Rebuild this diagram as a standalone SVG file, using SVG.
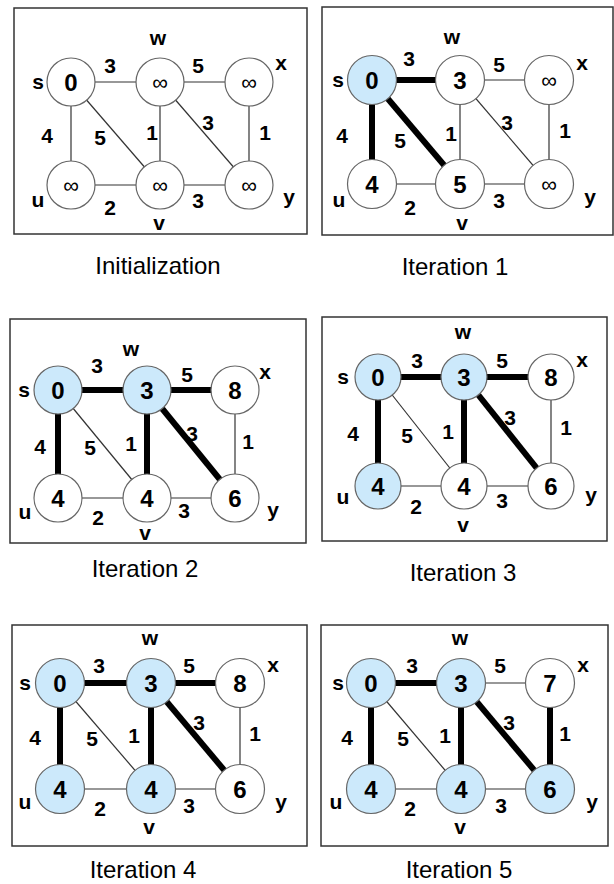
<svg xmlns="http://www.w3.org/2000/svg" width="614" height="884" viewBox="0 0 614 884">
<style>
.box{fill:#fff;stroke:#333;stroke-width:1.5}
.n{fill:#fff;stroke:#666;stroke-width:1.2}
.b{fill:#cce9fb}
.e{stroke:#333;stroke-width:1.2}
.t{stroke:#000;stroke-width:6}
text{font-family:"Liberation Sans",Arial,sans-serif;fill:#000;text-anchor:middle;dominant-baseline:central}
.val{font-size:24px;font-weight:bold}
.inf{font-size:22px}
.nm{font-size:21px;font-weight:bold}
.wt{font-size:21px;font-weight:bold}
.cap{font-size:24px}
</style>
<rect width="614" height="884" fill="#fff"/>

<!-- Panel 1: Initialization -->
<g id="panel1">
<rect class="box" x="14" y="8" width="293" height="226"/>
<g id="p1-edges">
<line class="e" x1="71" y1="82" x2="160" y2="82"/>
<line class="e" x1="160" y1="82" x2="249" y2="82"/>
<line class="e" x1="71" y1="82" x2="71" y2="185"/>
<line class="e" x1="71" y1="82" x2="160" y2="185"/>
<line class="e" x1="160" y1="82" x2="160" y2="185"/>
<line class="e" x1="160" y1="82" x2="249" y2="185"/>
<line class="e" x1="249" y1="82" x2="249" y2="185"/>
<line class="e" x1="71" y1="185" x2="160" y2="185"/>
<line class="e" x1="160" y1="185" x2="249" y2="185"/>
<text class="wt" x="110" y="65">3</text>
<text class="wt" x="198" y="65">5</text>
<text class="wt" x="47" y="135">4</text>
<text class="wt" x="100" y="137">5</text>
<text class="wt" x="152" y="132">1</text>
<text class="wt" x="208" y="122">3</text>
<text class="wt" x="265" y="132">1</text>
<text class="wt" x="110" y="207">2</text>
<text class="wt" x="198" y="200">3</text>
</g>
<g id="p1-s"><circle class="n" cx="71" cy="82" r="24"/><text class="val" x="71" y="82">0</text><text class="nm" x="38" y="81">s</text></g>
<g id="p1-w"><circle class="n" cx="160" cy="82" r="24"/><text class="inf" x="160" y="82">∞</text><text class="nm" x="158" y="37">w</text></g>
<g id="p1-x"><circle class="n" cx="249" cy="82" r="24"/><text class="inf" x="249" y="82">∞</text><text class="nm" x="281" y="62">x</text></g>
<g id="p1-u"><circle class="n" cx="71" cy="185" r="24"/><text class="inf" x="71" y="185">∞</text><text class="nm" x="38" y="199">u</text></g>
<g id="p1-v"><circle class="n" cx="160" cy="185" r="24"/><text class="inf" x="160" y="185">∞</text><text class="nm" x="159" y="222">v</text></g>
<g id="p1-y"><circle class="n" cx="249" cy="185" r="24"/><text class="inf" x="249" y="185">∞</text><text class="nm" x="289" y="196">y</text></g>
<text class="cap" x="158" y="265">Initialization</text>
</g>

<!-- Panel 2: Iteration 1 -->
<g id="panel2">
<rect class="box" x="322" y="7" width="291" height="228"/>
<g id="p2-edges">
<line class="t" x1="372" y1="80" x2="460" y2="80"/>
<line class="e" x1="460" y1="80" x2="549" y2="80"/>
<line class="t" x1="372" y1="80" x2="372" y2="184"/>
<line class="t" x1="372" y1="80" x2="460" y2="184"/>
<line class="e" x1="460" y1="80" x2="460" y2="184"/>
<line class="e" x1="460" y1="80" x2="549" y2="184"/>
<line class="e" x1="549" y1="80" x2="549" y2="184"/>
<line class="e" x1="372" y1="184" x2="460" y2="184"/>
<line class="e" x1="460" y1="184" x2="549" y2="184"/>
<text class="wt" x="409" y="58">3</text>
<text class="wt" x="499" y="64">5</text>
<text class="wt" x="342" y="135">4</text>
<text class="wt" x="400" y="140">5</text>
<text class="wt" x="451" y="133">1</text>
<text class="wt" x="507" y="122">3</text>
<text class="wt" x="565" y="130">1</text>
<text class="wt" x="410" y="207">2</text>
<text class="wt" x="499" y="200">3</text>
</g>
<g id="p2-s"><circle class="n b" cx="372" cy="80" r="24.5"/><text class="val" x="372" y="80">0</text><text class="nm" x="338" y="79">s</text></g>
<g id="p2-w"><circle class="n" cx="460" cy="80" r="24.5"/><text class="val" x="460" y="80">3</text><text class="nm" x="452" y="36">w</text></g>
<g id="p2-x"><circle class="n" cx="549" cy="80" r="24.5"/><text class="inf" x="549" y="80">∞</text><text class="nm" x="582" y="62">x</text></g>
<g id="p2-u"><circle class="n" cx="372" cy="184" r="24.5"/><text class="val" x="372" y="184">4</text><text class="nm" x="339" y="199">u</text></g>
<g id="p2-v"><circle class="n" cx="460" cy="184" r="24.5"/><text class="val" x="460" y="184">5</text><text class="nm" x="462" y="222">v</text></g>
<g id="p2-y"><circle class="n" cx="549" cy="184" r="24.5"/><text class="inf" x="549" y="184">∞</text><text class="nm" x="590" y="196">y</text></g>
<text class="cap" x="455" y="266">Iteration 1</text>
</g>

<!-- Panel 3: Iteration 2 -->
<g id="panel3">
<rect class="box" x="10" y="319" width="296" height="224"/>
<g id="p3-edges">
<line class="t" x1="58" y1="390" x2="147" y2="390"/>
<line class="t" x1="147" y1="390" x2="235" y2="390"/>
<line class="t" x1="58" y1="390" x2="58" y2="498"/>
<line class="e" x1="58" y1="390" x2="147" y2="498"/>
<line class="t" x1="147" y1="390" x2="147" y2="498"/>
<line class="t" x1="147" y1="390" x2="235" y2="498"/>
<line class="e" x1="235" y1="390" x2="235" y2="498"/>
<line class="e" x1="58" y1="498" x2="147" y2="498"/>
<line class="e" x1="147" y1="498" x2="235" y2="498"/>
<text class="wt" x="97" y="365">3</text>
<text class="wt" x="187" y="374">5</text>
<text class="wt" x="40" y="446">4</text>
<text class="wt" x="90" y="447">5</text>
<text class="wt" x="131" y="443">1</text>
<text class="wt" x="192" y="433">3</text>
<text class="wt" x="248" y="441">1</text>
<text class="wt" x="98" y="517">2</text>
<text class="wt" x="184" y="510">3</text>
</g>
<g id="p3-s"><circle class="n b" cx="58" cy="390" r="24"/><text class="val" x="58" y="390">0</text><text class="nm" x="24" y="389">s</text></g>
<g id="p3-w"><circle class="n b" cx="147" cy="390" r="24"/><text class="val" x="147" y="390">3</text><text class="nm" x="131" y="348">w</text></g>
<g id="p3-x"><circle class="n" cx="235" cy="390" r="24"/><text class="val" x="235" y="390">8</text><text class="nm" x="265" y="371">x</text></g>
<g id="p3-u"><circle class="n" cx="58" cy="498" r="24"/><text class="val" x="58" y="498">4</text><text class="nm" x="25" y="511">u</text></g>
<g id="p3-v"><circle class="n" cx="147" cy="498" r="24"/><text class="val" x="147" y="498">4</text><text class="nm" x="145" y="532">v</text></g>
<g id="p3-y"><circle class="n" cx="235" cy="498" r="24"/><text class="val" x="235" y="498">6</text><text class="nm" x="273" y="509">y</text></g>
<text class="cap" x="145" y="568">Iteration 2</text>
</g>

<!-- Panel 4: Iteration 3 -->
<g id="panel4">
<rect class="box" x="322" y="317" width="285" height="224"/>
<g id="p4-edges">
<line class="t" x1="378" y1="377" x2="464" y2="377"/>
<line class="t" x1="464" y1="377" x2="551" y2="377"/>
<line class="t" x1="378" y1="377" x2="378" y2="486"/>
<line class="e" x1="378" y1="377" x2="464" y2="486"/>
<line class="t" x1="464" y1="377" x2="464" y2="486"/>
<line class="t" x1="464" y1="377" x2="551" y2="486"/>
<line class="e" x1="551" y1="377" x2="551" y2="486"/>
<line class="e" x1="378" y1="486" x2="464" y2="486"/>
<line class="e" x1="464" y1="486" x2="551" y2="486"/>
<text class="wt" x="417" y="360">3</text>
<text class="wt" x="502" y="360">5</text>
<text class="wt" x="353" y="433">4</text>
<text class="wt" x="407" y="435">5</text>
<text class="wt" x="448" y="431">1</text>
<text class="wt" x="510" y="417">3</text>
<text class="wt" x="566" y="427">1</text>
<text class="wt" x="416" y="506">2</text>
<text class="wt" x="502" y="500">3</text>
</g>
<g id="p4-s"><circle class="n b" cx="378" cy="377" r="23"/><text class="val" x="378" y="377">0</text><text class="nm" x="343" y="376">s</text></g>
<g id="p4-w"><circle class="n b" cx="464" cy="377" r="23"/><text class="val" x="464" y="377">3</text><text class="nm" x="463" y="331">w</text></g>
<g id="p4-x"><circle class="n" cx="551" cy="377" r="23"/><text class="val" x="551" y="377">8</text><text class="nm" x="582" y="359">x</text></g>
<g id="p4-u"><circle class="n b" cx="378" cy="486" r="23"/><text class="val" x="378" y="486">4</text><text class="nm" x="343" y="496">u</text></g>
<g id="p4-v"><circle class="n" cx="464" cy="486" r="23"/><text class="val" x="464" y="486">4</text><text class="nm" x="463" y="524">v</text></g>
<g id="p4-y"><circle class="n" cx="551" cy="486" r="23"/><text class="val" x="551" y="486">6</text><text class="nm" x="591" y="494">y</text></g>
<text class="cap" x="463" y="572">Iteration 3</text>
</g>

<!-- Panel 5: Iteration 4 -->
<g id="panel5">
<rect class="box" x="12" y="625" width="295" height="221"/>
<g id="p5-edges">
<line class="t" x1="60" y1="683" x2="151" y2="683"/>
<line class="t" x1="151" y1="683" x2="240" y2="683"/>
<line class="t" x1="60" y1="683" x2="60" y2="789"/>
<line class="e" x1="60" y1="683" x2="151" y2="789"/>
<line class="t" x1="151" y1="683" x2="151" y2="789"/>
<line class="t" x1="151" y1="683" x2="240" y2="789"/>
<line class="e" x1="240" y1="683" x2="240" y2="789"/>
<line class="e" x1="60" y1="789" x2="151" y2="789"/>
<line class="e" x1="151" y1="789" x2="240" y2="789"/>
<text class="wt" x="99" y="665">3</text>
<text class="wt" x="189" y="665">5</text>
<text class="wt" x="35" y="737">4</text>
<text class="wt" x="92" y="738">5</text>
<text class="wt" x="134" y="735">1</text>
<text class="wt" x="199" y="722">3</text>
<text class="wt" x="255" y="733">1</text>
<text class="wt" x="100" y="808">2</text>
<text class="wt" x="189" y="805">3</text>
</g>
<g id="p5-s"><circle class="n b" cx="60" cy="683" r="24.5"/><text class="val" x="60" y="683">0</text><text class="nm" x="25" y="682">s</text></g>
<g id="p5-w"><circle class="n b" cx="151" cy="683" r="24.5"/><text class="val" x="151" y="683">3</text><text class="nm" x="150" y="637">w</text></g>
<g id="p5-x"><circle class="n" cx="240" cy="683" r="24.5"/><text class="val" x="240" y="683">8</text><text class="nm" x="273" y="664">x</text></g>
<g id="p5-u"><circle class="n b" cx="60" cy="789" r="24.5"/><text class="val" x="60" y="789">4</text><text class="nm" x="25" y="801">u</text></g>
<g id="p5-v"><circle class="n b" cx="151" cy="789" r="24.5"/><text class="val" x="151" y="789">4</text><text class="nm" x="149" y="826">v</text></g>
<g id="p5-y"><circle class="n" cx="240" cy="789" r="24.5"/><text class="val" x="240" y="789">6</text><text class="nm" x="281" y="801">y</text></g>
<text class="cap" x="143" y="869">Iteration 4</text>
</g>

<!-- Panel 6: Iteration 5 -->
<g id="panel6">
<rect class="box" x="321" y="625" width="287" height="221"/>
<g id="p6-edges">
<line class="t" x1="371" y1="683" x2="461" y2="683"/>
<line class="e" x1="461" y1="683" x2="550" y2="683"/>
<line class="t" x1="371" y1="683" x2="371" y2="789"/>
<line class="e" x1="371" y1="683" x2="461" y2="789"/>
<line class="t" x1="461" y1="683" x2="461" y2="789"/>
<line class="t" x1="461" y1="683" x2="550" y2="789"/>
<line class="t" x1="550" y1="683" x2="550" y2="789"/>
<line class="e" x1="371" y1="789" x2="461" y2="789"/>
<line class="e" x1="461" y1="789" x2="550" y2="789"/>
<text class="wt" x="412" y="665">3</text>
<text class="wt" x="500" y="665">5</text>
<text class="wt" x="347" y="737">4</text>
<text class="wt" x="403" y="738">5</text>
<text class="wt" x="445" y="735">1</text>
<text class="wt" x="509" y="722">3</text>
<text class="wt" x="565" y="733">1</text>
<text class="wt" x="410" y="808">2</text>
<text class="wt" x="501" y="805">3</text>
</g>
<g id="p6-s"><circle class="n b" cx="371" cy="683" r="24.5"/><text class="val" x="371" y="683">0</text><text class="nm" x="338" y="682">s</text></g>
<g id="p6-w"><circle class="n b" cx="461" cy="683" r="24.5"/><text class="val" x="461" y="683">3</text><text class="nm" x="460" y="637">w</text></g>
<g id="p6-x"><circle class="n" cx="550" cy="683" r="24.5"/><text class="val" x="550" y="683">7</text><text class="nm" x="583" y="664">x</text></g>
<g id="p6-u"><circle class="n b" cx="371" cy="789" r="24.5"/><text class="val" x="371" y="789">4</text><text class="nm" x="336" y="801">u</text></g>
<g id="p6-v"><circle class="n b" cx="461" cy="789" r="24.5"/><text class="val" x="461" y="789">4</text><text class="nm" x="460" y="826">v</text></g>
<g id="p6-y"><circle class="n b" cx="550" cy="789" r="24.5"/><text class="val" x="550" y="789">6</text><text class="nm" x="592" y="801">y</text></g>
<text class="cap" x="459" y="869">Iteration 5</text>
</g>
</svg>
